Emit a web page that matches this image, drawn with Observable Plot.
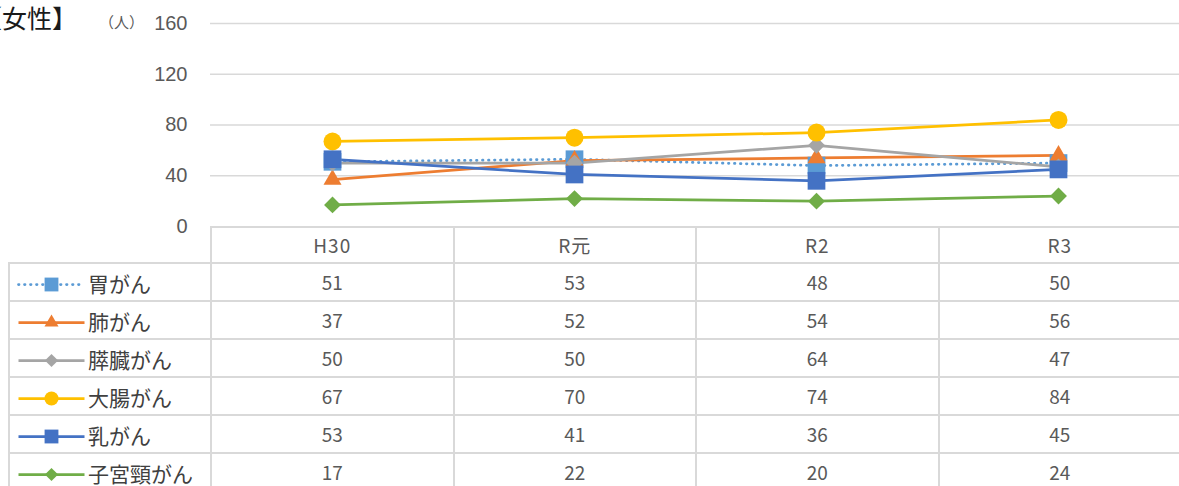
<!DOCTYPE html>
<html><head><meta charset="utf-8">
<script src="https://cdn.jsdelivr.net/npm/d3@7"></script>
<script src="https://cdn.jsdelivr.net/npm/@observablehq/plot@0.6"></script>
<style>
html,body{margin:0;padding:0;}
body{width:1179px;height:486px;overflow:hidden;background:#fff;position:relative;font-family:"Noto Sans CJK JP","Noto Sans",sans-serif;}
#title{position:absolute;left:-23px;top:2px;font-size:25px;line-height:30px;color:#1a1a1a;white-space:nowrap;}
#unit{position:absolute;left:99px;top:12px;font-size:15px;line-height:20px;color:#595959;white-space:nowrap;}
#chart{position:absolute;left:0;top:0;}
table{position:absolute;left:8px;top:226px;border-collapse:collapse;table-layout:fixed;width:1172px;}
td{border:2px solid #d9d9d9;padding:0;color:#595959;font-size:19px;line-height:20px;text-align:center;white-space:nowrap;overflow:hidden;}
tr.head td{height:34px;font-size:19px;letter-spacing:1px;}
tr.head td.corner{border-top:none;border-left:none;}
tr.row td{height:36px;}
td.lab{text-align:left;font-size:21px;color:#404040;}
td.lab svg{display:inline-block !important;vertical-align:middle;margin-left:7px;margin-right:3px;}
td.lab span{vertical-align:middle;}
</style>
</head><body>
<div id="title">【女性】</div>
<div id="unit">（人）</div>
<div id="chart"></div>
<table id="tbl"></table>
<script>
// ---- data ----
const categories = ["H30", "R元", "R2", "R3"];
const seriesNames = ["胃がん", "肺がん", "膵臓がん", "大腸がん", "乳がん", "子宮頸がん"];
const stomach    = [51, 53, 48, 50];
const lung       = [37, 52, 54, 56];
const pancreas   = [50, 50, 64, 47];
const colorectal = [67, 70, 74, 84];
const breast     = [53, 41, 36, 45];
const cervical   = [17, 22, 20, 24];
const yTicks = [0, 40, 80, 120, 160];

// ---- styles ----
const seriesValues = [stomach, lung, pancreas, colorectal, breast, cervical];
const colors  = ["#5B9BD5", "#ED7D31", "#A5A5A5", "#FFC000", "#4472C4", "#70AD47"];
const symbols = ["square", "triangle2", "diamond2", "circle", "square", "diamond2"];
const radii   = [10, 8.6, 7.6, 9, 10, 7.6];
const dashes  = ["0.5,5.5", null, null, null, null, null];

const data = seriesNames.flatMap((s, i) => categories.map((c, j) => ({series: s, cat: c, value: seriesValues[i][j]})));

const marks = [
  Plot.ruleY(yTicks.slice(1), {stroke: "#d9d9d9", strokeWidth: 1.5}),
  Plot.axisY({ticks: yTicks, tickSize: 0, tickPadding: 23, fontSize: 20, fill: "#595959", label: null,
              fontFamily: "'Liberation Sans', Arial, sans-serif"})
];
seriesNames.forEach((s, i) => {
  const d = data.filter(r => r.series === s);
  marks.push(Plot.line(d, {x: "cat", y: "value", stroke: colors[i], strokeWidth: 2.75,
    strokeDasharray: dashes[i] || undefined, strokeLinecap: dashes[i] ? "round" : "butt"}));
});
seriesNames.forEach((s, i) => {
  const d = data.filter(r => r.series === s);
  marks.push(Plot.dot(d, {x: "cat", y: "value", symbol: symbols[i], r: radii[i], fill: colors[i], stroke: "none"}));
});

const chart = Plot.plot({
  width: 1179, height: 228,
  marginTop: 23, marginBottom: 2, marginLeft: 210, marginRight: 0,
  x: {type: "point", domain: categories, padding: 0.5, range: [210, 1180], axis: null},
  y: {domain: [0, 160], axis: null},
  style: {background: "transparent", overflow: "visible"},
  marks
});
document.getElementById("chart").appendChild(chart);

// ---- table ----
const tbl = document.getElementById("tbl");
const cg = document.createElement("colgroup");
[202, 242.5, 242.5, 242.5, 242.5].forEach(w => { const c = document.createElement("col"); c.style.width = w + "px"; cg.appendChild(c); });
tbl.appendChild(cg);
const head = document.createElement("tr"); head.className = "head";
const corner = document.createElement("td"); corner.className = "corner"; head.appendChild(corner);
categories.forEach(c => { const td = document.createElement("td"); td.textContent = c; head.appendChild(td); });
tbl.appendChild(head);

seriesNames.forEach((s, i) => {
  const tr = document.createElement("tr"); tr.className = "row";
  const lab = document.createElement("td"); lab.className = "lab";
  const sw = Plot.plot({
    width: 68, height: 20, margin: 0,
    x: {domain: [0, 1], range: [1, 67], axis: null},
    y: {domain: [0, 1], range: [20, 0], axis: null},
    style: {background: "transparent", overflow: "visible", display: "inline-block"},
    marks: [
      Plot.line([[0, 0.5], [1, 0.5]], {stroke: colors[i], strokeWidth: 2.75,
        strokeDasharray: dashes[i] || undefined, strokeLinecap: dashes[i] ? "round" : "butt"}),
      Plot.dot([[0.5, 0.5]], {symbol: symbols[i], r: radii[i] * 0.78, fill: colors[i], stroke: "none"})
    ]
  });
  lab.appendChild(sw);
  const sp = document.createElement("span"); sp.textContent = s; lab.appendChild(sp);
  tr.appendChild(lab);
  seriesValues[i].forEach(v => { const td = document.createElement("td"); td.textContent = v; tr.appendChild(td); });
  tbl.appendChild(tr);
});
</script>
</body></html>
